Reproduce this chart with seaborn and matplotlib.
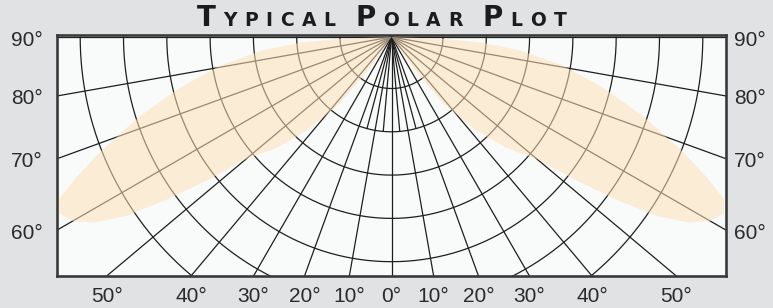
import numpy as np
import pandas as pd
import matplotlib
matplotlib.use("Agg")
import matplotlib.pyplot as plt
from matplotlib.transforms import IdentityTransform, blended_transform_factory
import seaborn as sns

# ---- chart data -------------------------------------------------------
# radial grid lines (deg from the downward vertical) and ring radii
radial_angles = list(range(-90, 91, 10))
fine_angles = [-15, -5, 5, 15]          # short extra spokes near the centre
ring_radii = [51.5, 94.8, 138.1, 181.4, 224.7, 268.0, 311.3]

# shaded batwing lobe: angle (deg) vs distance, right half (mirrored left)
lobe_angles = [33, 35, 38, 42, 46, 50, 52, 54, 56, 58, 60, 62, 64, 66,
               68.5, 72.5, 76.5, 80.5, 84, 86.5, 88, 90]
lobe_radii = [0, 40, 85, 125, 160, 190, 230, 275, 320, 350, 368, 376, 370,
              345, 313, 264, 218, 174, 130, 90, 50, 0]

# tick labels
bottom_angles = [-50, -40, -30, -20, -10, 0, 10, 20, 30, 40, 50]
side_angles = [90, 80, 70, 60]
title = [("T", "big"), ("YPICAL", "small"), (" ", "gap"), ("P", "big"),
         ("OLAR", "small"), (" ", "gap"), ("P", "big"), ("LOT", "small")]

# ---- layout ------------------------------------------------------------
W, H = 773, 308
X_HALF = 334.5      # origin to side border
Y_DEPTH = 239.0     # origin to bottom border
INK = "#2b2b2b"

sns.set_style("white")
plt.rcParams["font.family"] = ["Liberation Sans", "DejaVu Sans"]

fig = plt.figure(figsize=(W / 100, H / 100), dpi=100, facecolor="#e1e2e4")
ax = fig.add_axes([57 / W, 32 / H, 669 / W, 241 / H])
ax.set_facecolor("#f9fafa")

# grid lines as one long table for seaborn
rows = []
for a in radial_angles:
    t = np.radians(a)
    for r in (0, 700):
        rows.append(("rad%d" % a, r * np.sin(t), -r * np.cos(t)))
for a in fine_angles:
    t = np.radians(a)
    for r in (0, ring_radii[1]):
        rows.append(("fine%d" % a, r * np.sin(t), -r * np.cos(t)))
arc = np.radians(np.linspace(-90, 90, 361))
for r in ring_radii:
    for t in arc:
        rows.append(("ring%.1f" % r, r * np.sin(t), -r * np.cos(t)))
grid = pd.DataFrame(rows, columns=["line", "x", "y"])

sns.lineplot(data=grid, x="x", y="y", units="line", estimator=None,
             sort=False, color="#1e1e1e", lw=0.9, ax=ax, zorder=2)

# shaded lobes, drawn over the grid so lines show through tinted
th = np.radians(lobe_angles)
rr = np.array(lobe_radii)
for side in (1, -1):
    ax.fill(side * rr * np.sin(th), -rr * np.cos(th), color="#fee1b8",
            alpha=0.55, lw=0, zorder=3)

ax.set_xlim(-X_HALF, X_HALF)
ax.set_ylim(-Y_DEPTH, 2)
ax.set_xlabel("")
ax.set_ylabel("")

for s in ax.spines.values():
    s.set_color("#3a3a3a")
    s.set_linewidth(1.9)
    s.set_zorder(5)

# bottom labels where the radial lines meet the bottom border
ax.set_xticks([Y_DEPTH * np.tan(np.radians(a)) for a in bottom_angles])
ax.set_xticklabels(["%d\u00b0" % abs(a) for a in bottom_angles])
ax.set_yticks([])
ax.tick_params(axis="x", length=0, pad=8, labelsize=15, labelcolor=INK)

# side labels where the radial lines meet the side borders
ys = [0 if a == 90 else -X_HALF / np.tan(np.radians(a)) for a in side_angles]
tr = blended_transform_factory(ax.transAxes, ax.transData)
for a, y in zip(side_angles, ys):
    ax.text(-0.021, y - 3, "%d\u00b0" % a, transform=tr, ha="right",
            va="center", fontsize=15, color=INK)
    ax.text(1.0115, y - 3, "%d\u00b0" % a, transform=tr, ha="left",
            va="center", fontsize=15, color=INK)

# small-caps title laid out letter by letter, stretched to the ref width
fig.canvas.draw()
renderer = fig.canvas.get_renderer()
sizes = {"big": 20, "small": 13.5}
gap = 12
span = 370.0
pieces = []
for chunk, kind in title:
    if kind == "gap":
        pieces.append((None, gap))
        continue
    for ch in chunk:
        t = fig.text(0, 0, ch, fontsize=sizes[kind], fontweight="bold",
                     family="DejaVu Sans", color="#1c1c1c",
                     transform=IdentityTransform(), ha="left", va="baseline")
        pieces.append((t, t.get_window_extent(renderer).width))
n_letters = sum(1 for t, _ in pieces if t is not None)
track = (span - sum(w for _, w in pieces)) / (n_letters - 1)
x = 381.5 - span / 2
for t, wpx in pieces:
    if t is None:
        x += wpx
        continue
    t.set_position((x, H - 26.5))
    x += wpx + track

fig.savefig("out.png", dpi=100, facecolor=fig.get_facecolor())
